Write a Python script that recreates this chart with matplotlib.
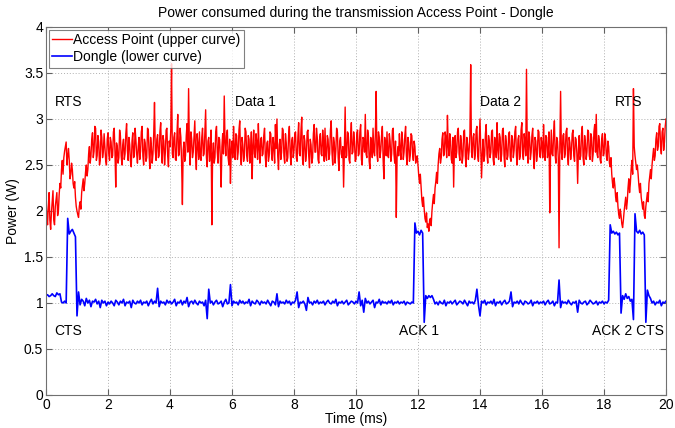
import matplotlib
matplotlib.use("Agg")
import matplotlib.pyplot as plt
import numpy as np

plt.rcParams['font.family'] = ['Liberation Sans', 'DejaVu Sans']

# time axis (ms): access point sampled every 0.025 ms, dongle every 0.05 ms
t_start, t_stop = 0.0, 20.0

access_point = [
    2.15, 1.95, 1.85, 2.05, 2.20, 1.90, 1.80, 1.98, 2.10, 2.22, 1.90, 1.85, 2.05, 2.12, 2.20, 1.95, 2.00, 2.18, 2.30, 2.25,
    2.45, 2.55, 2.40, 2.58, 2.65, 2.70, 2.75, 2.50, 2.60, 2.68, 2.55, 2.35, 2.40, 2.52, 2.45, 2.30, 2.25, 2.32, 2.15, 2.05,
    2.00, 1.96, 1.93, 2.05, 2.10, 2.02, 2.20, 2.28, 2.35, 2.22, 2.30, 2.42, 2.50, 2.38, 2.45, 2.62, 2.70, 2.52, 2.60, 2.78,
    2.85, 2.58, 2.65, 2.92, 2.90, 2.55, 2.60, 2.82, 2.75, 2.50, 2.55, 2.88, 2.80, 2.58, 2.65, 2.84, 2.70, 2.55, 2.50, 2.78,
    2.85, 2.62, 2.55, 2.80, 2.75, 2.58, 2.60, 2.86, 2.90, 2.64, 2.26, 2.74, 2.70, 2.52, 2.58, 2.88, 2.82, 2.60, 2.50, 2.72,
    2.78, 2.56, 2.62, 2.84, 2.95, 2.66, 2.55, 2.80, 2.72, 2.54, 2.48, 2.76, 2.85, 2.58, 2.60, 2.90, 2.77, 2.62, 2.52, 2.70,
    2.80, 2.56, 2.65, 2.86, 2.92, 2.60, 2.50, 2.78, 2.74, 2.54, 2.58, 2.90, 2.88, 2.62, 2.46, 2.80, 2.70, 2.52, 2.62, 2.84,
    3.18, 2.66, 2.55, 2.78, 2.83, 2.58, 2.60, 2.86, 2.96, 2.64, 2.52, 2.82, 2.76, 2.50, 2.64, 2.88, 2.90, 2.60, 2.48, 2.76,
    2.70, 2.88, 3.60, 2.62, 2.58, 2.80, 2.85, 2.56, 2.55, 2.84, 3.05, 2.60, 2.62, 2.90, 2.80, 2.52, 2.07, 2.66, 2.75, 2.54,
    2.60, 2.82, 2.95, 2.64, 3.33, 2.70, 2.50, 2.86, 2.78, 2.58, 2.64, 2.80, 2.98, 2.62, 2.45, 2.84, 2.72, 2.56, 2.86, 2.60,
    2.55, 2.80, 2.90, 2.60, 2.62, 2.86, 3.10, 2.58, 2.48, 2.76, 2.80, 2.54, 2.66, 2.88, 1.85, 2.62, 2.74, 2.52, 2.58, 2.86,
    2.92, 2.64, 2.52, 2.80, 2.78, 2.56, 2.26, 2.70, 2.84, 2.62, 3.25, 2.74, 2.60, 2.82, 2.88, 2.58, 2.50, 2.78, 2.30, 2.66,
    2.76, 2.58, 2.92, 2.66, 2.56, 2.84, 2.82, 2.56, 2.64, 2.88, 2.98, 2.62, 2.50, 2.80, 2.72, 2.54, 2.60, 2.90, 2.86, 2.60,
    2.54, 2.82, 2.78, 2.52, 2.66, 2.86, 2.35, 2.70, 2.88, 2.62, 2.58, 2.84, 2.74, 2.56, 2.95, 2.68, 2.52, 2.78, 2.80, 2.60,
    2.62, 2.82, 2.90, 2.58, 2.48, 2.74, 2.76, 2.54, 2.60, 2.86, 2.84, 2.62, 2.55, 2.80, 2.70, 2.52, 2.94, 2.68, 3.00, 2.60,
    2.45, 2.72, 2.78, 2.56, 2.64, 2.90, 2.88, 2.60, 2.52, 2.84, 2.74, 2.54, 2.58, 2.82, 2.92, 2.64, 2.50, 2.76, 2.80, 2.58,
    2.66, 2.84, 2.86, 2.58, 2.54, 2.80, 2.96, 2.62, 2.60, 2.88, 3.02, 2.56, 2.50, 2.82, 2.76, 2.54, 2.62, 2.86, 2.88, 2.60,
    2.47, 2.78, 2.72, 2.52, 2.58, 2.84, 2.94, 2.64, 2.64, 2.90, 2.80, 2.56, 2.52, 2.78, 2.84, 2.62, 2.60, 2.88, 2.75, 2.54,
    2.90, 2.60, 2.55, 2.82, 2.78, 2.56, 2.62, 2.88, 2.98, 2.64, 2.50, 2.80, 2.74, 2.52, 2.66, 2.90, 2.86, 2.58, 2.44, 2.76,
    2.80, 2.62, 2.58, 2.70, 2.26, 2.66, 3.13, 2.58, 2.60, 2.86, 2.84, 2.56, 2.52, 2.80, 2.96, 2.62, 2.64, 2.86, 2.76, 2.54,
    2.56, 2.84, 2.88, 2.60, 2.62, 2.86, 2.94, 2.56, 2.50, 2.80, 2.78, 2.64, 3.05, 2.62, 2.58, 2.88, 2.82, 2.54, 2.46, 2.80,
    2.74, 2.58, 2.90, 2.64, 2.60, 2.84, 3.30, 2.62, 2.54, 2.86, 2.80, 2.58, 2.66, 2.82, 2.92, 2.56, 2.35, 2.80, 2.72, 2.60,
    2.86, 2.60, 2.58, 2.84, 2.76, 2.54, 2.62, 2.88, 2.90, 2.62, 2.52, 2.76, 1.93, 2.58, 2.70, 2.60, 2.84, 2.66, 2.56, 2.86,
    2.78, 2.56, 2.64, 2.82, 2.92, 2.60, 2.50, 2.80, 2.74, 2.54, 2.60, 2.84, 2.82, 2.62, 2.55, 2.76, 2.70, 2.52, 2.58, 2.60,
    2.50, 2.38, 2.30, 2.40, 2.25, 2.12, 2.05, 2.15, 2.02, 1.92, 1.88, 1.98, 1.82, 1.86, 1.78, 1.90, 1.92, 1.84, 2.00, 2.10,
    2.18, 2.08, 2.25, 2.32, 2.42, 2.30, 2.50, 2.62, 2.68, 2.52, 2.58, 2.78, 2.85, 2.60, 2.62, 2.86, 2.80, 2.58, 3.04, 2.70,
    2.60, 2.84, 2.76, 2.56, 2.52, 2.80, 2.26, 2.70, 2.82, 2.58, 2.64, 2.86, 2.90, 2.62, 2.55, 2.82, 2.74, 2.52, 2.60, 2.86,
    2.88, 2.60, 2.48, 2.80, 2.72, 2.56, 2.66, 2.84, 3.59, 2.64, 2.58, 2.80, 2.84, 2.56, 2.62, 2.88, 2.92, 2.60, 2.54, 2.78,
    3.00, 2.66, 2.36, 2.62, 2.78, 2.54, 2.60, 2.84, 2.94, 2.62, 2.52, 2.82, 2.76, 2.58, 2.64, 2.86, 2.88, 2.56, 2.50, 2.80,
    2.70, 2.58, 2.96, 2.66, 2.56, 2.84, 2.80, 2.54, 2.62, 2.88, 2.90, 2.60, 2.48, 2.82, 2.74, 2.56, 2.60, 2.84, 2.86, 2.58,
    2.54, 2.82, 2.78, 2.58, 2.66, 2.86, 2.92, 2.60, 2.50, 2.78, 2.82, 2.56, 2.60, 2.88, 2.96, 2.62, 2.56, 2.84, 2.74, 2.60,
    3.54, 2.66, 2.52, 2.86, 2.80, 2.56, 2.64, 2.82, 2.90, 2.60, 2.46, 2.80, 2.76, 2.54, 2.62, 2.88, 2.86, 2.60, 2.58, 2.80,
    2.72, 2.58, 2.94, 2.66, 2.55, 2.82, 2.80, 2.58, 2.64, 2.86, 1.98, 2.60, 2.88, 2.62, 2.60, 2.84, 2.98, 2.60, 2.52, 2.80,
    2.76, 2.58, 1.60, 2.70, 3.30, 2.64, 2.56, 2.82, 2.84, 2.58, 2.62, 2.86, 2.90, 2.60, 2.50, 2.80, 2.74, 2.56, 2.66, 2.84,
    2.88, 2.60, 2.54, 2.80, 2.78, 2.62, 2.30, 2.66, 2.82, 2.56, 2.60, 2.84, 2.92, 2.58, 2.50, 2.82, 2.74, 2.56, 2.64, 2.88,
    2.86, 2.60, 2.56, 2.84, 2.80, 2.54, 2.62, 2.86, 2.94, 2.64, 3.05, 2.62, 2.58, 2.82, 2.76, 2.56, 2.52, 2.78, 2.84, 2.60,
    2.62, 2.84, 2.78, 2.60, 2.55, 2.76, 2.70, 2.52, 2.48, 2.58, 2.40, 2.30, 2.25, 2.36, 2.28, 2.15, 2.10, 2.20, 2.05, 1.96,
    1.92, 2.02, 1.95, 1.86, 1.82, 1.90, 2.00, 2.08, 2.15, 2.02, 2.10, 2.25, 2.35, 2.20, 2.30, 2.45, 2.55, 2.40, 3.33, 2.70,
    2.60, 2.52, 2.45, 2.50, 2.40, 2.28, 2.20, 2.30, 2.15, 2.08, 2.02, 2.10, 1.95, 1.92, 2.05, 2.12, 2.20, 2.10, 2.30, 2.38,
    2.45, 2.35, 2.50, 2.60, 2.68, 2.55, 2.60, 2.78, 2.85, 2.66, 2.70, 2.92, 2.95, 2.70, 2.62, 2.86, 2.90, 2.66, 2.75, 2.92,
    3.00,
]

dongle = [
    1.08, 1.09, 1.07, 1.08, 1.10, 1.08, 1.07, 1.11, 1.09, 1.10, 1.01, 1.00, 1.02, 1.00, 1.92, 1.75, 1.78, 1.80, 1.76, 1.72,
    0.86, 1.12, 0.98, 1.04, 1.02, 0.97, 1.05, 1.00, 1.03, 0.96, 1.02, 1.01, 1.04, 0.99, 1.02, 0.95, 1.03, 1.00, 1.02, 0.97,
    1.01, 0.99, 1.02, 1.00, 0.97, 1.03, 1.01, 0.98, 1.02, 1.00, 1.04, 0.97, 1.01, 1.00, 1.02, 0.95, 1.03, 1.00, 0.99, 1.02,
    1.00, 1.03, 0.98, 1.01, 1.00, 1.02, 0.97, 1.01, 1.04, 0.99, 1.02, 1.00, 1.16, 0.96, 1.02, 1.00, 1.01, 0.98, 1.03, 1.00,
    1.02, 0.99, 1.01, 1.04, 0.97, 1.01, 1.00, 1.03, 0.98, 1.02, 1.00, 1.06, 0.96, 1.01, 1.02, 0.99, 1.03, 1.00, 0.98, 1.02,
    1.00, 1.01, 0.97, 1.03, 0.83, 1.15, 1.00, 1.02, 0.98, 1.01, 1.03, 0.99, 1.00, 1.02, 0.96, 1.01, 1.04, 0.99, 1.00, 1.20,
    0.97, 1.02, 1.00, 1.01, 0.98, 1.03, 1.00, 1.02, 0.99, 1.01, 1.00, 1.04, 0.97, 1.02, 1.00, 0.99, 1.03, 1.01, 0.98, 1.02,
    1.00, 1.01, 0.99, 1.03, 1.00, 0.97, 1.02, 1.01, 0.98, 1.10, 0.96, 1.02, 1.00, 1.01, 0.99, 1.03, 1.00, 1.02, 0.98, 1.01,
    1.00, 1.03, 1.12, 0.95, 1.01, 1.00, 1.02, 0.99, 0.92, 1.06, 1.00, 1.01, 0.98, 1.02, 1.00, 1.03, 0.99, 1.01, 1.00, 1.02,
    0.98, 1.01, 1.03, 1.00, 0.99, 1.02, 1.00, 1.04, 0.97, 1.01, 1.00, 1.02, 0.99, 1.01, 1.03, 0.98, 1.00, 1.02, 1.01, 0.99,
    1.02, 1.00, 1.12, 0.97, 1.03, 0.90, 1.05, 1.00, 1.02, 0.99, 1.01, 1.03, 0.95, 1.01, 1.00, 1.04, 0.98, 1.02, 1.00, 1.01,
    0.99, 1.02, 1.00, 1.03, 0.98, 1.01, 1.00, 1.02, 0.99, 1.01, 1.00, 1.02, 0.98, 1.01, 1.00, 0.99, 1.01, 1.00, 1.87, 1.76,
    1.78, 1.74, 1.79, 1.76, 0.79, 1.08, 1.05, 1.08, 1.06, 1.08, 1.04, 0.99, 1.01, 0.98, 1.02, 1.00, 0.99, 1.03, 0.97, 1.01,
    1.00, 1.02, 0.99, 1.01, 1.03, 0.98, 1.00, 1.02, 1.01, 0.99, 1.03, 1.00, 0.97, 1.02, 1.00, 1.01, 0.99, 1.03, 1.15, 0.98,
    0.86, 1.02, 1.00, 1.03, 0.98, 1.01, 1.00, 1.02, 0.99, 1.04, 0.97, 1.01, 1.00, 1.02, 0.98, 1.01, 1.03, 0.99, 1.00, 1.02,
    1.12, 0.96, 1.01, 1.00, 1.02, 0.99, 1.03, 1.00, 0.98, 1.02, 1.01, 0.99, 1.00, 1.03, 0.97, 1.01, 1.00, 1.02, 0.99, 1.01,
    1.00, 1.02, 0.98, 1.01, 1.03, 0.99, 1.00, 1.02, 0.97, 1.01, 1.00, 1.25, 0.95, 1.02, 1.00, 1.01, 0.99, 1.03, 1.00, 0.98,
    1.01, 1.00, 1.02, 0.90, 1.03, 1.00, 0.99, 1.01, 1.02, 0.98, 1.00, 1.03, 1.01, 0.99, 1.00, 1.02, 0.98, 1.01, 1.00, 1.02,
    0.99, 1.01, 1.00, 1.03, 1.85, 1.76, 1.78, 1.75, 1.77, 1.74, 1.76, 0.89, 1.08, 1.04, 1.10, 1.05, 1.07, 1.02, 1.04, 0.82,
    1.97, 1.78, 1.76, 1.79, 1.75, 1.77, 1.74, 0.79, 1.14, 1.08, 1.05, 1.00, 1.02, 0.98, 1.01, 1.00, 1.03, 0.97, 1.01, 1.00,
    1.02,
]

series_labels = ["Access Point (upper curve)", "Dongle (lower curve)"]
title_text = "Power consumed during the transmission Access Point - Dongle"
x_label = "Time (ms)"
y_label = "Power (W)"
x_ticks = [0, 2, 4, 6, 8, 10, 12, 14, 16, 18, 20]
y_ticks = [0, 0.5, 1, 1.5, 2, 2.5, 3, 3.5, 4]
y_tick_labels = ["0", "0.5", "1", "1.5", "2", "2.5", "3", "3.5", "4"]

annotations = [
    ("RTS", 0.28, 3.18),
    ("Data 1", 6.1, 3.18),
    ("Data 2", 14.0, 3.18),
    ("RTS", 18.35, 3.18),
    ("CTS", 0.28, 0.70),
    ("ACK 1", 11.4, 0.70),
    ("ACK 2 CTS", 17.6, 0.70),
]

time_ap = np.linspace(t_start, t_stop, len(access_point))
time_dg = np.linspace(t_start, t_stop, len(dongle))

FS = 10
fig = plt.figure(figsize=(6.75, 4.28), dpi=100)
ax = fig.add_axes([46/675, 33/428, 620/675, 368/428])

ax.plot(time_ap, access_point, color="#ff0000", lw=1.0, label=series_labels[0])
ax.plot(time_dg, dongle, color="#0000ff", lw=1.2, label=series_labels[1])

ax.set_xlim(0, 20)
ax.set_ylim(0, 4)
ax.set_xticks(x_ticks)
ax.set_yticks(y_ticks)
ax.set_yticklabels(y_tick_labels)
ax.grid(True, linestyle=(0, (1, 2)), color="#b0b0b0", lw=0.7)
ax.tick_params(direction="in", top=True, right=True, labelsize=FS, length=4,
               color="#606060", pad=2)
for s in ax.spines.values():
    s.set_color("#707070")
    s.set_linewidth(0.8)

ax.set_title(title_text, fontsize=FS, pad=7)
ax.set_xlabel(x_label, fontsize=FS, labelpad=0)
ax.set_ylabel(y_label, fontsize=FS, labelpad=3)

for txt, x, y in annotations:
    ax.text(x, y, txt, fontsize=FS, ha="left", va="center")

leg = ax.legend(loc="upper left", fontsize=FS, frameon=True, fancybox=False,
                borderpad=0.25, handlelength=1.4, handletextpad=0.1,
                labelspacing=0.2, borderaxespad=0.2)
leg.get_frame().set_edgecolor("#606060")
leg.get_frame().set_linewidth(0.8)

fig.savefig("out.png", dpi=100)
